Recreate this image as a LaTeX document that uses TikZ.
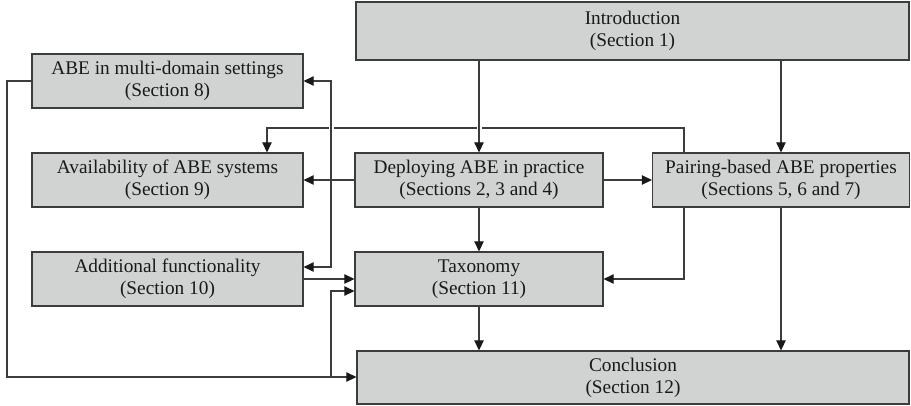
\documentclass[tikz,border=0pt]{standalone}
\usepackage{fontspec}
\setmainfont{Liberation Serif}
\usetikzlibrary{arrows.meta}

\definecolor{boxfill}{RGB}{209,210,210}
\definecolor{boxline}{RGB}{60,60,60}
\definecolor{txt}{RGB}{25,25,25}

\tikzset{
  secbox/.style={draw=boxline, line width=1.3pt, fill=boxfill, text=txt,
    align=center, inner sep=0pt, font=\fontsize{19.3}{22}\selectfont},
  flow/.style={draw=boxline, line width=1.2pt,
    -{Triangle[length=10pt,width=9.5pt,color=black!90]}},
  bridge/.style={preaction={draw=white, line width=5pt, -}}
}

\begin{document}
\begin{tikzpicture}[x=1pt, y=-1pt]
\useasboundingbox (0,0) rectangle (911,405);

\node[secbox, minimum width=553pt, minimum height=58pt] (intro) at (632.5,31)
  {Introduction\\(Section 1)};
\node[secbox, minimum width=271pt, minimum height=54pt] (multi) at (167.5,81)
  {ABE in multi-domain settings\\(Section 8)};
\node[secbox, minimum width=271pt, minimum height=54pt] (avail) at (167.5,180)
  {Availability of ABE systems\\(Section 9)};
\node[secbox, minimum width=271pt, minimum height=54pt] (addl) at (167.5,279)
  {Additional functionality\\(Section 10)};
\node[secbox, minimum width=248pt, minimum height=54pt] (deploy) at (479,180)
  {Deploying ABE in practice\\(Sections 2, 3 and 4)};
\node[secbox, minimum width=248pt, minimum height=54pt] (tax) at (479,279)
  {Taxonomy\\(Section 11)};
\node[secbox, minimum width=257pt, minimum height=54pt] (pair) at (781,180)
  {Pairing-based ABE properties\\(Sections 5, 6 and 7)};
\node[secbox, minimum width=552pt, minimum height=53pt] (concl) at (633,377.5)
  {Conclusion\\(Section 12)};

\coordinate (topbus) at (684,128);
\coordinate (availtap) at (267,128);
\coordinate (leftbus) at (331,180);
\coordinate (farleft) at (7,377);
\coordinate (bottap) at (331,377);

% pairing feeds back to availability
\draw[flow] (pair.north -| topbus) -- (topbus) -- (availtap) -- (availtap |- avail.north);

% lines crossing the bus
\draw[flow, bridge] (intro.south -| deploy) -- (deploy.north);
\draw[flow, bridge, {Triangle[length=10pt,width=9.5pt,color=black!90]}-{Triangle[length=10pt,width=9.5pt,color=black!90]}]
  (multi.east) -| (leftbus) |- ([yshift=12pt]addl.east);
\draw[flow] (deploy.west) -- (avail.east);

\draw[flow] (intro.south -| pair) -- (pair.north);
\draw[flow] (deploy.east) -- (pair.west);
\draw[flow] (deploy.south) -- (tax.north);
\draw[flow] (addl.east) -- (addl.east -| tax.west);
\draw[flow] (pair.south -| topbus) |- (tax.east);
\draw[flow] (tax.south) -- (tax.south |- concl.north);
\draw[flow] (pair.south) -- (pair.south |- concl.north);

% multi-domain to conclusion and taxonomy
\draw[flow] (multi.west) -| (farleft) -- (farleft -| concl.west);
\draw[flow] (bottap) |- ([yshift=-12pt]tax.west);
\end{tikzpicture}
\end{document}
